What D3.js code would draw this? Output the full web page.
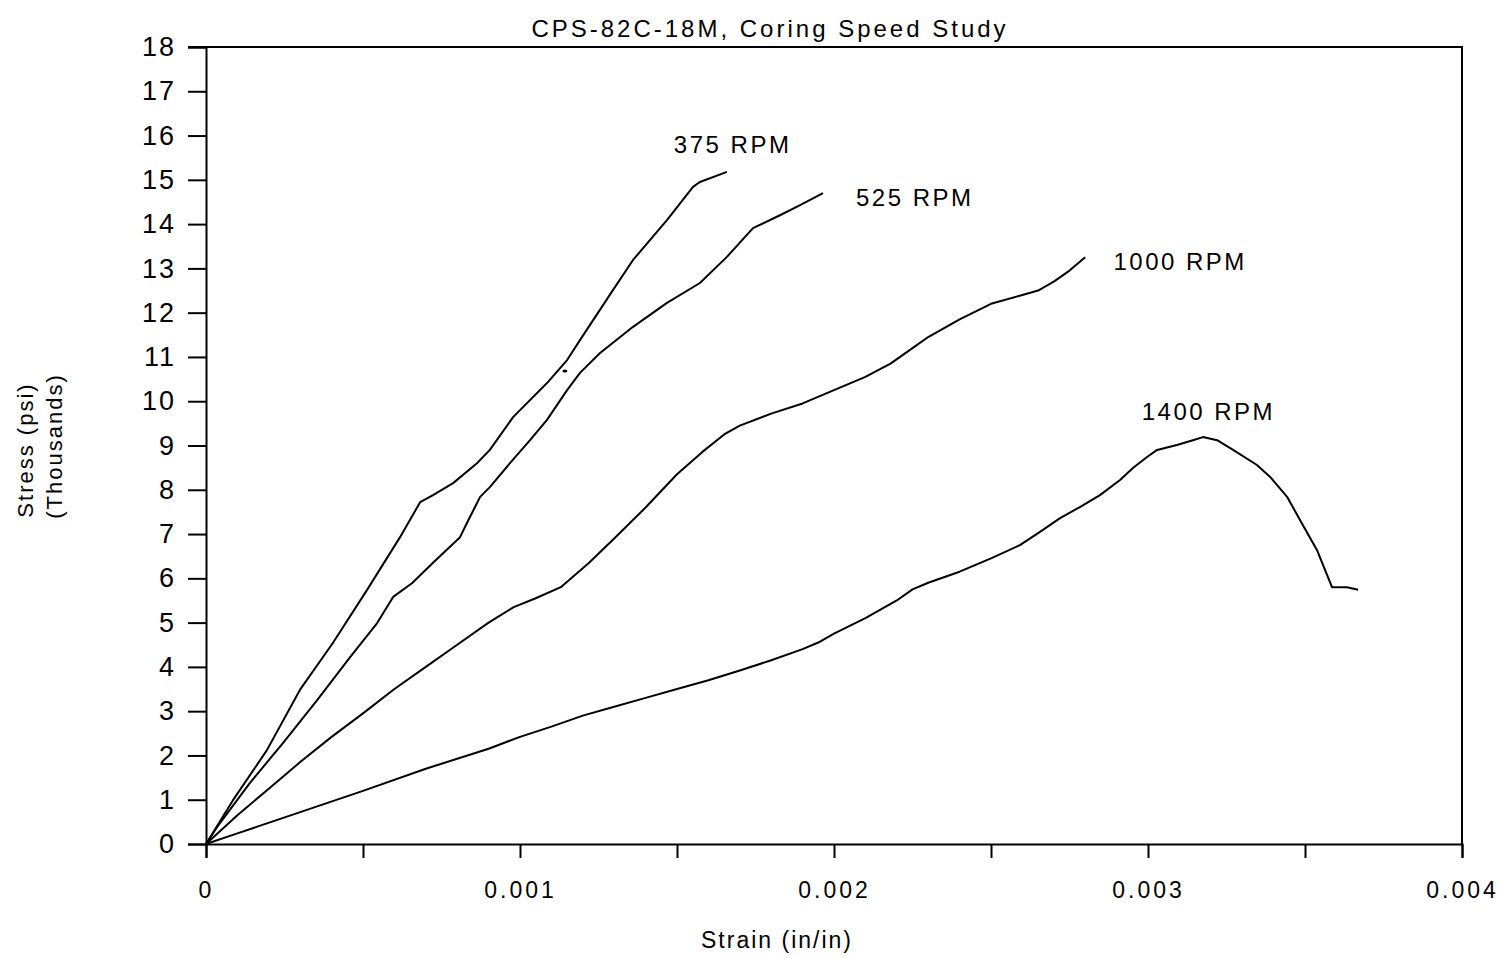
<!DOCTYPE html>
<html>
<head>
<meta charset="utf-8">
<script src="https://cdn.jsdelivr.net/npm/d3@7"></script>
<style>
  body { margin: 0; background: #fff; }
  svg text { font-family: "Liberation Sans", Arial, sans-serif; fill: #000; }
</style>
</head>
<body>
<svg id="chart" width="1507" height="958"></svg>
<script>
// strain (in/in) vs stress (thousands psi)
const rpm375 = [
  [0, 0], [0.000086, 0.99], [0.000194, 2.12], [0.000299, 3.48], [0.000404, 4.54],
  [0.000513, 5.74], [0.000618, 6.93], [0.000682, 7.72], [0.000723, 7.88], [0.000787, 8.15],
  [0.000863, 8.6], [0.000904, 8.9], [0.000978, 9.64], [0.001086, 10.41], [0.00115, 10.93],
  [0.001191, 11.38], [0.001296, 12.51], [0.00136, 13.19], [0.001468, 14.09], [0.001551, 14.84],
  [0.001573, 14.95], [0.001659, 15.18]
];
const rpm525 = [
  [0, 0], [0.000035, 0.38], [0.00014, 1.38], [0.000245, 2.28], [0.000354, 3.25],
  [0.000459, 4.22], [0.000545, 4.99], [0.000596, 5.58], [0.000656, 5.89], [0.000723, 6.35],
  [0.000809, 6.93], [0.000831, 7.25], [0.000873, 7.84], [0.000904, 8.06], [0.000968, 8.6],
  [0.001032, 9.12], [0.001086, 9.58], [0.00115, 10.25], [0.001191, 10.64], [0.001255, 11.09],
  [0.00136, 11.68], [0.001468, 12.22], [0.001573, 12.67], [0.001659, 13.26], [0.001742, 13.91],
  [0.001828, 14.2], [0.001892, 14.43], [0.001965, 14.7]
];
const rpm1000 = [
  [0, 0], [0.0001, 0.65], [0.0002, 1.25], [0.0003, 1.85], [0.0004, 2.42], [0.0005, 2.95],
  [0.0006, 3.5], [0.0007, 4.0], [0.0008, 4.5], [0.0009, 5.0], [0.00098, 5.35], [0.00105, 5.55],
  [0.00113, 5.8], [0.00122, 6.35], [0.0013, 6.9], [0.0014, 7.6], [0.0015, 8.35], [0.00158, 8.85],
  [0.00165, 9.25], [0.0017, 9.45], [0.0018, 9.72], [0.0019, 9.95], [0.002, 10.25], [0.0021, 10.55],
  [0.00218, 10.85], [0.00225, 11.2], [0.0023, 11.45], [0.0024, 11.85], [0.0025, 12.2],
  [0.0026, 12.4], [0.00265, 12.5], [0.0027, 12.7], [0.00275, 12.95], [0.0028, 13.25]
];
const rpm1400 = [
  [0, 0], [0.0001, 0.24], [0.0003, 0.72], [0.0005, 1.2], [0.0007, 1.7], [0.0009, 2.15],
  [0.001, 2.42], [0.0011, 2.65], [0.0012, 2.9], [0.0013, 3.1], [0.0014, 3.3], [0.0015, 3.5],
  [0.0016, 3.7], [0.0017, 3.92], [0.0018, 4.15], [0.0019, 4.4], [0.00195, 4.55], [0.002, 4.75],
  [0.0021, 5.1], [0.0022, 5.5], [0.00225, 5.75], [0.0023, 5.9], [0.0024, 6.15], [0.0025, 6.45],
  [0.002592, 6.75], [0.002656, 7.05], [0.00272, 7.36], [0.002783, 7.61], [0.002847, 7.88],
  [0.002911, 8.22], [0.002952, 8.49], [0.002997, 8.74], [0.003029, 8.9], [0.003092, 9.01],
  [0.003143, 9.12], [0.003175, 9.19], [0.00322, 9.12], [0.003271, 8.9], [0.003347, 8.56],
  [0.003389, 8.29], [0.003443, 7.84], [0.003484, 7.32], [0.003538, 6.64], [0.003586, 5.8],
  [0.003634, 5.8], [0.003669, 5.74]
];
const seriesNames = ["375 RPM", "525 RPM", "1000 RPM", "1400 RPM"];
// where each curve's label sits (strain, stress)
const labelAt = [[0.00149, 15.6], [0.00207, 14.42], [0.00289, 12.96], [0.00298, 9.58]];
const strayMark = [[0.001143, 10.68]];
const xTicks = d3.range(0, 0.00401, 0.0005);
const yTicks = d3.range(0, 19, 1);

const svg = d3.select("#chart");
const x = d3.scaleLinear().domain([0, 0.004]).range([206, 1462]);
const y = d3.scaleLinear().domain([0, 18]).range([844, 47]);

// frame: top + right
svg.append("path")
  .attr("d", `M${x(0) - 18},${y(18)}H${x(0.004)}V${y(0)}`)
  .attr("fill", "none").attr("stroke", "#000").attr("stroke-width", 2);

const yAxis = svg.append("g").attr("transform", `translate(${x(0)},0)`)
  .call(d3.axisLeft(y).tickValues(yTicks).tickSize(18).tickPadding(12).tickFormat(d3.format("d")));
const xAxis = svg.append("g").attr("transform", `translate(0,${y(0)})`)
  .call(d3.axisBottom(x).tickValues(xTicks).tickSize(14).tickPadding(24)
    .tickFormat(d => d === 0 ? "0" : (Math.round(d * 10000) % 10 === 0 ? d.toFixed(3) : "")));

[yAxis, xAxis].forEach(g => {
  g.select(".domain").attr("stroke-width", 2);
  g.selectAll(".tick line").attr("stroke-width", 2);
});
yAxis.selectAll("text").attr("font-size", 27).attr("letter-spacing", 2);
xAxis.selectAll("text").attr("font-size", 23).attr("letter-spacing", 3);

const line = d3.line().x(d => x(d[0])).y(d => y(d[1]));
[rpm375, rpm525, rpm1000, rpm1400].forEach(s => {
  svg.append("path").datum(s).attr("d", line)
    .attr("fill", "none").attr("stroke", "#000").attr("stroke-width", 2)
    .attr("stroke-linejoin", "round");
});

svg.selectAll(".stray").data(strayMark).join("ellipse")
  .attr("cx", d => x(d[0])).attr("cy", d => y(d[1])).attr("rx", 2.5).attr("ry", 1.5);

svg.selectAll(".lbl").data(seriesNames).join("text")
  .attr("x", (d, i) => x(labelAt[i][0])).attr("y", (d, i) => y(labelAt[i][1]))
  .attr("font-size", 24).attr("letter-spacing", 2.5).text(d => d);

svg.append("text").attr("x", 770).attr("y", 37).attr("text-anchor", "middle")
  .attr("font-size", 24).attr("letter-spacing", 3).text("CPS-82C-18M, Coring Speed Study");
svg.append("text").attr("x", 777).attr("y", 948).attr("text-anchor", "middle")
  .attr("font-size", 23).attr("letter-spacing", 2).text("Strain (in/in)");
svg.append("text").attr("transform", "translate(33,450) rotate(-90)").attr("text-anchor", "middle")
  .attr("font-size", 22).attr("letter-spacing", 2).text("Stress (psi)");
svg.append("text").attr("transform", "translate(62,446) rotate(-90)").attr("text-anchor", "middle")
  .attr("font-size", 22).attr("letter-spacing", 2).text("(Thousands)");
</script>
</body>
</html>
